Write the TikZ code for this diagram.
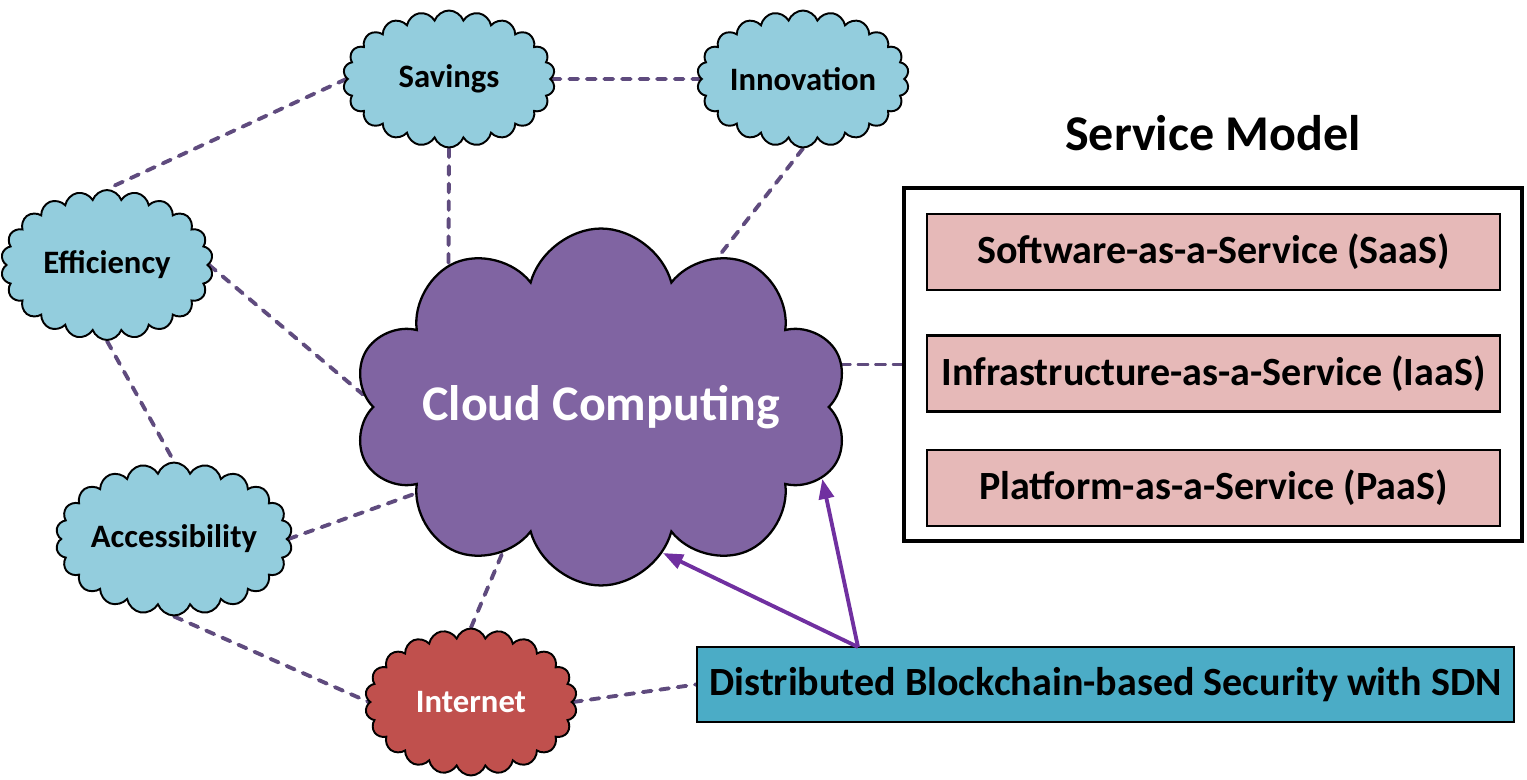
\documentclass[tikz,border=0pt]{standalone}
\usepackage{fontspec}
\setmainfont{Carlito}
\usepackage{xcolor}
\usepackage{tikz}
\usetikzlibrary{shapes,arrows,positioning,calc,arrows.meta,backgrounds}

\definecolor{puffblue}{HTML}{93CDDD}
\definecolor{cloudpurple}{HTML}{8064A2}
\definecolor{netred}{HTML}{C0504D}
\definecolor{boxpink}{HTML}{E6B9B8}
\definecolor{secteal}{HTML}{4BACC6}
\definecolor{linkpurple}{HTML}{5F4B7E}
\definecolor{arrowpurple}{HTML}{7030A0}

\begin{document}
\begin{tikzpicture}[x=0.02cm,y=-0.02cm,
    puff/.style={cloud, cloud puffs=22, cloud puff arc=140, cloud ignores aspect, draw=black, line width=1.1pt, fill=puffblue, inner sep=0pt, minimum width=4.24cm, minimum height=2.74cm, font=\fontsize{18.6}{22}\selectfont\bfseries},
    model/.style={draw=black, line width=1.4pt, fill=boxpink, minimum width=11.46cm, minimum height=1.52cm, font=\fontsize{22.8}{27}\selectfont\bfseries},
    link/.style={linkpurple, line width=2.2pt, dash pattern=on 5pt off 5pt, line cap=round},
    feed/.style={arrowpurple, line width=2.2pt, -{Triangle[length=0.4cm,width=0.3cm]}}]
    \useasboundingbox (0,0) rectangle (1527,780);

    \node[cloud, cloud puffs=10, cloud puff arc=150, cloud ignores aspect, draw=black, line width=1.3pt, fill=cloudpurple, minimum width=9.46cm, minimum height=7.14cm, inner sep=0pt, text=white, font=\fontsize{28.4}{33}\selectfont\bfseries] (cc) at (601,407) {Cloud Computing};

    \node[puff] (sav) at (449,79) {Savings};
    \node[puff] (inn) at (803,79) {Innovation};
    \node[puff, minimum height=3cm] (eff) at (107,265) {Efficiency};
    \node[puff, minimum width=4.3cm, minimum height=3.06cm] (acc) at (174,539) {Accessibility};
    \node[puff, fill=netred, text=white, minimum height=2.94cm] (int) at (471,702) {Internet};

    \node[font=\fontsize{28.5}{33}\selectfont\bfseries] (title) at (1213,133) {Service Model};
    \node[draw=black, line width=1.8pt, minimum width=12.36cm, minimum height=7.06cm] (sm) at (1213,364.5) {};
    \node[model] (saas) at (1213.5,252) {Software-as-a-Service (SaaS)};
    \node[model] (iaas) at (1213.5,373.5) {Infrastructure-as-a-Service (IaaS)};
    \node[model] (paas) at (1213.5,488) {Platform-as-a-Service (PaaS)};

    \node[draw=black, line width=1.4pt, fill=secteal, minimum width=16.34cm, minimum height=1.5cm, font=\fontsize{22.8}{27}\selectfont\bfseries] (dbs) at (1105.5,684.5) {Distributed Blockchain-based Security with SDN};
    \coordinate (tail) at (858,647);

    \begin{scope}[on background layer]
        \draw[link] (sav.west) -- (eff.north);
        \draw[link] (sav.east) -- (inn.west);
        \draw[link] (sav.south) -- (cc.137);
        \draw[link] (inn.south) -- (cc.52);
        \draw[link] (eff.east) -- (cc.177);
        \draw[link] (eff.south) -- (acc.north);
        \draw[link] (acc.east) -- (cc.205);
        \draw[link] (acc.south) -- (int.west);
        \draw[link] (int.north) -- (cc.236);
        \draw[link] (int.east) -- (dbs.west);
        \draw[link] (sm.west) -- (cc.east |- sm.west);
    \end{scope}

    \draw[feed] (tail) -- (cc.293);
    \draw[feed] (tail) -- (cc.342);
\end{tikzpicture}
\end{document}
